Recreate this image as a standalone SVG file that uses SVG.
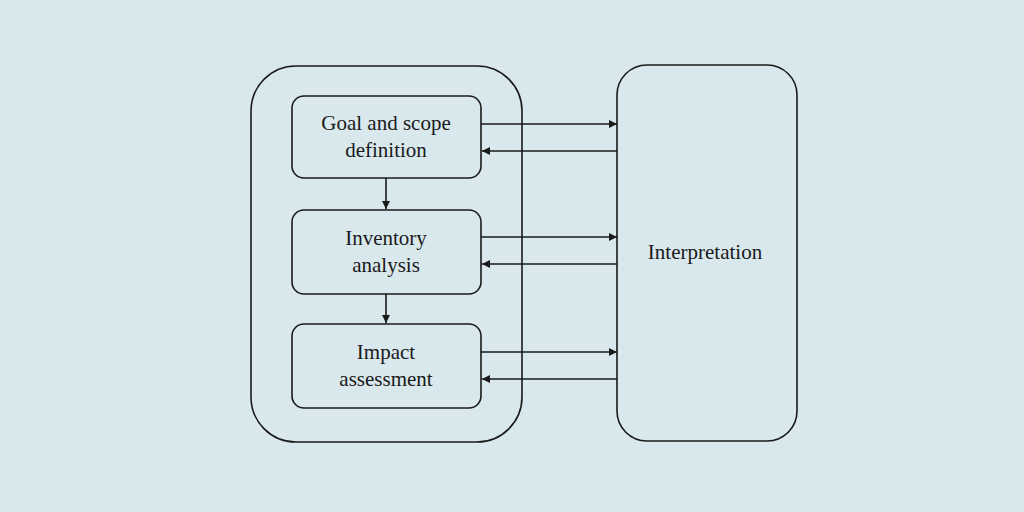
<svg xmlns="http://www.w3.org/2000/svg" width="1024" height="512" viewBox="0 0 1024 512">
<style>
.b{fill:none;stroke:#1a1a1a;stroke-width:1.6}
.t{font-family:"Liberation Serif","DejaVu Serif",serif;font-size:21px;fill:#1a1a1a;text-anchor:middle}
.c{stroke:#1a1a1a;stroke-width:1.6;fill:none;marker-end:url(#a)}
</style>
<defs><marker id="a" viewBox="0 0 10 10" refX="10" refY="5" markerWidth="10" markerHeight="8" markerUnits="userSpaceOnUse" orient="auto"><path d="M0,0L10,5L0,10z" fill="#1a1a1a"/></marker></defs>
<rect width="1024" height="512" fill="#d9e8ec"/>
<g id="lca"><rect class="b" x="251" y="66" width="271" height="376" rx="45"/></g>
<g id="goal"><rect class="b" x="292" y="96" width="189" height="82" rx="12"/><text class="t" x="386" y="130">Goal and scope</text><text class="t" x="386" y="157">definition</text></g>
<g id="inventory"><rect class="b" x="292" y="210" width="189" height="84" rx="12"/><text class="t" x="386" y="245">Inventory</text><text class="t" x="386" y="272">analysis</text></g>
<g id="impact"><rect class="b" x="292" y="324" width="189" height="84" rx="12"/><text class="t" x="386" y="359">Impact</text><text class="t" x="386" y="386">assessment</text></g>
<g id="interpretation"><rect class="b" x="617" y="65" width="180" height="376" rx="30"/><text class="t" x="705" y="259">Interpretation</text></g>
<g id="connectors">
<line class="c" x1="481" y1="124" x2="617" y2="124"/><line class="c" x1="617" y1="151" x2="482" y2="151"/>
<line class="c" x1="481" y1="237" x2="617" y2="237"/><line class="c" x1="617" y1="264" x2="482" y2="264"/>
<line class="c" x1="481" y1="352" x2="617" y2="352"/><line class="c" x1="617" y1="379" x2="482" y2="379"/>
<line class="c" x1="386" y1="178" x2="386" y2="209"/><line class="c" x1="386" y1="294" x2="386" y2="323"/>
</g>
</svg>
